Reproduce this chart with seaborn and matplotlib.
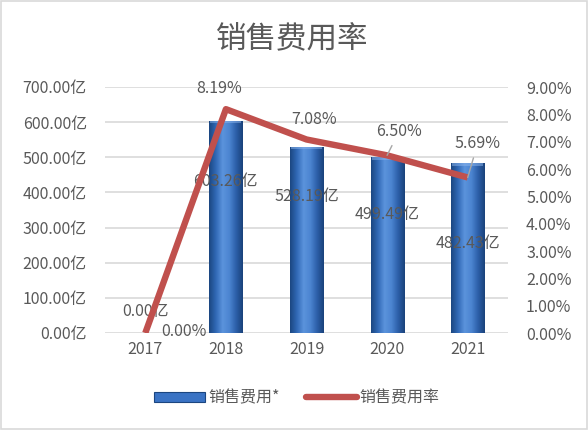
import numpy as np
import pandas as pd
import matplotlib
matplotlib.use("Agg")
import matplotlib.pyplot as plt
from matplotlib.colors import LinearSegmentedColormap
from matplotlib.patches import Patch
from matplotlib.lines import Line2D
import seaborn as sns

# ---- data ----
years = ["2017", "2018", "2019", "2020", "2021"]
sales_expense = [0.00, 603.26, 528.19, 499.49, 482.43]        # 亿
expense_ratio = [0.0000, 0.0819, 0.0708, 0.0650, 0.0569]      # ratio
left_ticks = [0, 100, 200, 300, 400, 500, 600, 700]
right_ticks = [0.00, 0.01, 0.02, 0.03, 0.04, 0.05, 0.06, 0.07, 0.08, 0.09]

# label placement (data units for amount labels; pixel offsets for ratio labels)
amount_label_y = [60, 430, 387, 336, 256]
ratio_label_off = [(39, 2), (-7, 21), (8, 20), (12, 24), (10, 34)]
ratio_leader = [False, False, False, True, True]

sns.set_theme(style="white")
plt.rcParams['font.family'] = ['Noto Sans CJK SC', 'DejaVu Sans']

TXT = "#595959"
GRID = "#D9D9D9"
RED = "#C0504D"

df = pd.DataFrame({"year": years, "expense": sales_expense, "ratio": expense_ratio})

fig = plt.figure(figsize=(5.88, 4.30), dpi=100)
ax = fig.add_axes([105/588, 1-333/430, (508-105)/588, (333-87)/430])

sns.barplot(data=df, x="year", y="expense", ax=ax, width=0.41,
            color="#3A73C4", saturation=1, edgecolor="none", zorder=2)

# cylinder-like gradient on bars
cmap = LinearSegmentedColormap.from_list(
    "bar", ["#1B4680", "#3068B5", "#5B93DC", "#4C85D1", "#2C5FA9", "#1A427A"])
grad = np.linspace(0, 1, 256).reshape(1, -1)
for p in ax.patches:
    x0, y0 = p.get_x(), p.get_y()
    w, h = p.get_width(), p.get_height()
    if h <= 0:
        continue
    im = ax.imshow(grad, cmap=cmap, aspect="auto",
                   extent=[x0, x0 + w, y0, y0 + h], zorder=2.1)
    im.set_clip_path(p)
    top = min(h, 6)
    ax.fill_between([x0 + w*0.03, x0 + w*0.97], y0 + h - top, y0 + h,
                    color="#8DB6EC", alpha=0.5, zorder=2.2, linewidth=0)

ax.set_xlim(-0.5, 4.5)
ax.set_ylim(0, 700)
ax.set_yticks(left_ticks)
ax.set_yticklabels([f"{v:.2f}亿" for v in left_ticks])
ax.set_xlabel("")
ax.set_ylabel("")
ax.yaxis.grid(True, color=GRID, linewidth=1.2, zorder=0)
ax.set_axisbelow(True)
for s in ax.spines.values():
    s.set_visible(False)
ax.tick_params(axis="both", length=0, colors=TXT, labelsize=11.5)
ax.tick_params(axis="y", pad=13)
ax.tick_params(axis="x", pad=6)

for i, v in enumerate(sales_expense):
    ax.text(i, amount_label_y[i], f"{v:.2f}亿", ha="center", va="center",
            fontsize=11.5, color=TXT, zorder=4)

ax2 = ax.twinx()
sns.lineplot(x=np.arange(len(years)), y=expense_ratio, ax=ax2, color=RED,
             linewidth=4.6, solid_capstyle="butt", zorder=5)
ax2.set_xlim(-0.5, 4.5)
ax2.set_ylim(0, 0.09)
ax2.set_yticks(right_ticks)
ax2.set_yticklabels([f"{v*100:.2f}%" for v in right_ticks])
ax2.set_ylabel("")
for s in ax2.spines.values():
    s.set_visible(False)
ax2.tick_params(axis="y", length=0, colors=TXT, labelsize=11.5, pad=13)
ax2.grid(False)

for i, v in enumerate(expense_ratio):
    dx, dy = ratio_label_off[i]
    kw = {}
    if ratio_leader[i]:
        kw["arrowprops"] = dict(arrowstyle="-", color="#A6A6A6", lw=1.0,
                                shrinkA=2, shrinkB=0)
    ax2.annotate(f"{v*100:.2f}%", xy=(i, v), xytext=(dx*0.72, dy*0.72),
                 textcoords="offset points", ha="center", va="center",
                 fontsize=11.5, color=TXT, zorder=6, **kw)

fig.text(292/588, 1-40/430, "销售费用率", ha="center", va="center",
         fontsize=22, color=TXT)

handles = [Patch(facecolor="#3A73C4", edgecolor="#1B4680", linewidth=0.8),
           Line2D([0], [0], color=RED, linewidth=4.6, solid_capstyle="round")]
leg = fig.legend(handles, ["销售费用*", "销售费用率"], loc="center",
                 bbox_to_anchor=(297/588, 1-398/430), ncol=2, frameon=False,
                 fontsize=11.5, handlelength=3.2, handleheight=0.6,
                 columnspacing=1.6, handletextpad=0.2)
for t in leg.get_texts():
    t.set_color(TXT)

# outer border
fig.patches.append(matplotlib.patches.Rectangle(
    (0.002, 0.002), 0.996, 0.996, transform=fig.transFigure,
    fill=False, edgecolor="#D9D9D9", linewidth=1.2))

fig.savefig("out.png", dpi=100)
